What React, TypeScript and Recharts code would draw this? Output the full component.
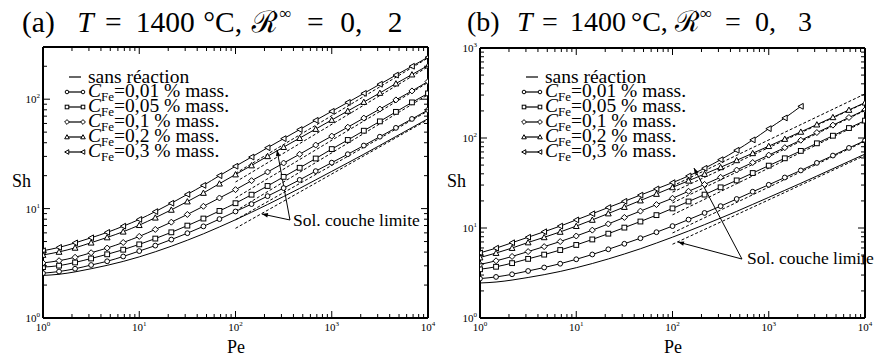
import React from 'react';
import { LineChart, Line, XAxis, YAxis, ReferenceLine } from 'recharts';

// Pe values where the markers sit (1/6 decade steps)
const PE = [1, 1.468, 2.154, 3.162, 4.642, 6.813, 10, 14.68, 21.54, 31.62, 46.42, 68.13, 100,
  146.8, 215.4, 316.2, 464.2, 681.3, 1000, 1468, 2154, 3162, 4642, 6813, 10000];

const X_TICKS = [1, 2, 3, 4, 5, 6, 7, 8, 9, 10, 20, 30, 40, 50, 60, 70, 80, 90, 100, 200, 300, 400, 500,
  600, 700, 800, 900, 1000, 2000, 3000, 4000, 5000, 6000, 7000, 8000, 9000, 10000];
const Y_TICKS_A = [1, 2, 3, 4, 5, 6, 7, 8, 9, 10, 20, 30, 40, 50, 60, 70, 80, 90, 100, 200, 300];
const Y_TICKS_B = [1, 2, 3, 4, 5, 6, 7, 8, 9, 10, 20, 30, 40, 50, 60, 70, 80, 90, 100, 200, 300, 400,
  500, 600, 700, 800, 900, 1000];

const LABELS = ['sans réaction', '0,01', '0,05', '0,1', '0,2', '0,3'];
const SHAPES = ['none', 'circle', 'square', 'diamond', 'triangle', 'triLeft'];

// (a) R = 0,2
const A_S0 = [2.45, 2.51, 2.64, 2.82, 3.03, 3.29, 3.62, 4.03, 4.53, 5.14, 5.88, 6.8, 7.91, 9.26, 10.9, 12.9, 15.3, 18.3, 21.9, 26.2, 31.4, 37.8, 45.6, 55, 66.3];
const A_C001 = [2.57, 2.66, 2.82, 3.05, 3.3, 3.65, 4.09, 4.59, 5.21, 5.96, 6.88, 8.02, 9.41, 11, 13, 15.4, 18.3, 22, 26.3, 31.4, 37.7, 45.4, 54.7, 66, 79.6];
const A_C005 = [2.92, 3.01, 3.22, 3.5, 3.82, 4.21, 4.71, 5.32, 6.07, 6.99, 8.11, 9.52, 11.2, 13.4, 16.1, 19.5, 23.6, 28.7, 35, 42.4, 51.5, 62.7, 76.6, 93.5, 113];
const A_C01 = [3.19, 3.34, 3.59, 3.95, 4.36, 4.9, 5.57, 6.45, 7.52, 8.84, 10.5, 12.5, 14.9, 18, 21.6, 26.1, 31.4, 38.1, 46, 55.5, 67.2, 81.3, 98.5, 119, 145];
const A_C02 = [3.77, 4.02, 4.38, 4.88, 5.45, 6.15, 7.06, 8.26, 9.74, 11.6, 13.9, 16.9, 20.5, 24.8, 30.1, 36.5, 44.1, 53.4, 64.6, 78.1, 94.2, 114, 139, 168, 203];
const A_C03 = [4.12, 4.42, 4.86, 5.41, 6.06, 6.91, 7.96, 9.39, 11.2, 13.5, 16.3, 20, 24.4, 29.6, 36, 43.6, 52.8, 64.1, 77.5, 93.5, 113, 137, 166, 200, 242];

// (b) R = 0,3
const B_S0 = [2.45, 2.51, 2.64, 2.82, 3.03, 3.29, 3.62, 4.03, 4.53, 5.14, 5.88, 6.8, 7.91, 9.26, 10.9, 12.9, 15.3, 18.3, 21.9, 26.2, 31.4, 37.8, 45.6, 55, 66.3];
const B_C001 = [2.74, 2.86, 3.06, 3.33, 3.64, 4.01, 4.49, 5.08, 5.8, 6.68, 7.7, 8.98, 10.5, 12.4, 14.7, 17.5, 21, 25.3, 30.2, 36.4, 43.6, 52.9, 63.8, 77.6, 93.5];
const B_C005 = [3.48, 3.71, 4.07, 4.54, 5.06, 5.69, 6.48, 7.46, 8.65, 10.1, 11.8, 13.9, 16.5, 19.7, 23.5, 28.3, 33.8, 40.8, 49.3, 59.5, 71.9, 87.3, 106, 129, 156];
const B_C01 = [3.94, 4.32, 4.83, 5.47, 6.21, 7.07, 8.15, 9.47, 11.1, 13.1, 15.4, 18.2, 21.4, 25.6, 30.5, 36.6, 44.1, 53.4, 64.6, 78.1, 94.5, 115, 139, 169, 205];
const B_C02 = [4.7, 5.27, 5.99, 6.91, 7.88, 9.05, 10.5, 12.3, 14.5, 17.1, 20.2, 23.9, 28.3, 33.5, 39.8, 47.3, 56.5, 67.7, 81.2, 97.5, 117, 141, 170, 205, 247];
const B_C03 = [5.29, 5.97, 6.86, 7.9, 9.09, 10.5, 12.3, 14.4, 16.9, 19.8, 23.2, 27.2, 31.9, 37.9, 46.1, 57.4, 73.1, 95.3, 127, 167, 225];

// boundary-layer solutions (dashed), Pe = 100 and 10^4
const BL_PE = [100, 10000];
const A_BL = [[6.6, 65], [7.9, 78], [9.5, 110], [12.5, 142], [17.5, 198], [21, 238]];
const B_BL = [[6.6, 64], [8.8, 92], [14, 153], [19, 202], [25, 245], [29.3, 309]];

// annotation arrows: [tip Pe, tip Sh, tail Pe, tail Sh]
const A_ARROWS = [[188, 8.93, 368, 7.87], [270, 34.3, 368, 7.87]];
const B_ARROWS = [[114, 6.99, 527, 4.52], [167, 46.4, 527, 4.52]];

const FONT = "'Liberation Serif', 'DejaVu Serif', 'Noto Serif', serif";

const isMajor = (v: number) => Math.abs(Math.log10(v) - Math.round(Math.log10(v))) < 1e-6;

const Pow = ({ x, y, v, anchor }: any) => (
  <text x={x} y={y} textAnchor={anchor} fontSize={11} style={{ fontFamily: FONT }} fill="#000">
    10<tspan dy={-5} fontSize={7}>{Math.round(Math.log10(v))}</tspan>
  </text>
);

const BottomTick = (p: any) => {
  const M = isMajor(p.payload.value);
  return (
    <g>
      <line x1={p.x} x2={p.x} y1={p.y} y2={p.y - (M ? 7 : 4)} stroke="#000" />
      {M && <Pow x={p.x} y={p.y + 13} v={p.payload.value} anchor="middle" />}
    </g>
  );
};
const TopTick = (p: any) => {
  const M = isMajor(p.payload.value);
  return <line x1={p.x} x2={p.x} y1={p.y} y2={p.y + (M ? 7 : 4)} stroke="#000" />;
};
const LeftTick = (p: any) => {
  const M = isMajor(p.payload.value);
  return (
    <g>
      <line x1={p.x} x2={p.x + (M ? 7 : 4)} y1={p.y} y2={p.y} stroke="#000" />
      {M && <Pow x={p.x - 3} y={p.y + 4} v={p.payload.value} anchor="end" />}
    </g>
  );
};
const RightTick = (p: any) => {
  const M = isMajor(p.payload.value);
  return <line x1={p.x} x2={p.x - (M ? 7 : 4)} y1={p.y} y2={p.y} stroke="#000" />;
};

function Marker({ shape, cx, cy, s = 2.4 }: any) {
  const st = { fill: '#fff', stroke: '#000', strokeWidth: 1 };
  if (shape === 'circle') return <circle cx={cx} cy={cy} r={s} {...st} />;
  if (shape === 'square') return <rect x={cx - s} y={cy - s} width={2 * s} height={2 * s} {...st} />;
  if (shape === 'diamond')
    return <polygon points={`${cx},${cy - s - 0.6} ${cx + s + 0.6},${cy} ${cx},${cy + s + 0.6} ${cx - s - 0.6},${cy}`} {...st} />;
  if (shape === 'triangle')
    return <polygon points={`${cx},${cy - s - 0.5} ${cx + s + 0.5},${cy + s} ${cx - s - 0.5},${cy + s}`} {...st} />;
  if (shape === 'triLeft')
    return <polygon points={`${cx - s - 0.5},${cy} ${cx + s},${cy - s - 0.5} ${cx + s},${cy + s + 0.5}`} {...st} />;
  return null;
}

const Arrow = (p: any) => {
  const { x1, y1, x2, y2 } = p;
  const a = Math.atan2(y2 - y1, x2 - x1);
  const L = 6, W = 2.2;
  const bx = x1 + L * Math.cos(a), by = y1 + L * Math.sin(a);
  const pts = `${x1},${y1} ${bx - W * Math.sin(a)},${by + W * Math.cos(a)} ${bx + W * Math.sin(a)},${by - W * Math.cos(a)}`;
  return (
    <g>
      <line x1={x1} y1={y1} x2={x2} y2={y2} stroke="#000" strokeWidth={1} />
      <polygon points={pts} fill="#000" />
    </g>
  );
};

const rows = (ys: number[], xs: number[] = PE) => ys.map((sh, i) => ({ pe: xs[i], sh }));

function Panel({ margin, ymax, yTicks, curves, bl, arrows }: any) {
  return (
    <LineChart width={444} height={360} margin={margin}>
      <XAxis xAxisId="b" dataKey="pe" type="number" scale="log" domain={[1, 10000]} allowDataOverflow
        ticks={X_TICKS} interval={0} height={20} tickSize={0} tickMargin={0} tickLine={false}
        axisLine={{ stroke: '#000', strokeWidth: 2 }} tick={BottomTick} />
      <XAxis xAxisId="t" orientation="top" dataKey="pe" type="number" scale="log" domain={[1, 10000]} allowDataOverflow
        ticks={X_TICKS} interval={0} height={1} tickSize={0} tickMargin={0} tickLine={false}
        axisLine={{ stroke: '#000', strokeWidth: 2 }} tick={TopTick} />
      <YAxis yAxisId="l" type="number" scale="log" domain={[1, ymax]} allowDataOverflow
        ticks={yTicks} interval={0} width={20} tickSize={0} tickMargin={0} tickLine={false}
        axisLine={{ stroke: '#000', strokeWidth: 2 }} tick={LeftTick} />
      <YAxis yAxisId="r" orientation="right" type="number" scale="log" domain={[1, ymax]} allowDataOverflow
        ticks={yTicks} interval={0} width={1} tickSize={0} tickMargin={0} tickLine={false}
        axisLine={{ stroke: '#000', strokeWidth: 2 }} tick={RightTick} />
      {bl.map((b: number[], i: number) => (
        <Line key={`bl${i}`} xAxisId="b" yAxisId="l" data={rows(b, BL_PE)} dataKey="sh" type="linear"
          stroke="#000" strokeWidth={1} strokeDasharray="3 2" dot={false} isAnimationActive={false} />
      ))}
      {curves.map((c: number[], i: number) => (
        <Line key={`c${i}`} xAxisId="b" yAxisId="l" data={rows(c)} dataKey="sh" type="monotone"
          stroke="#000" strokeWidth={1} isAnimationActive={false}
          dot={i === 0 ? false : (p: any) => <Marker key={`m${i}-${p.index}`} shape={SHAPES[i]} cx={p.cx} cy={p.cy} />} />
      ))}
      {arrows.map((a: number[], i: number) => (
        <ReferenceLine key={`ar${i}`} xAxisId="b" yAxisId="l" ifOverflow="visible"
          segment={[{ x: a[0], y: a[1] }, { x: a[2], y: a[3] }]} shape={Arrow} />
      ))}
    </LineChart>
  );
}

function Legend({ left, top }: any) {
  return (
    <div style={{ position: 'absolute', left, top, fontFamily: FONT, fontSize: 19.5, lineHeight: '15px' }}>
      {LABELS.map((l, i) => (
        <div key={l} style={{ height: 15, whiteSpace: 'nowrap', display: 'flex', alignItems: 'center' }}>
          <svg width={24} height={15} style={{ flex: 'none' }}>
            {i === 0 ? <line x1={5} x2={17} y1={8} y2={8} stroke="#000" strokeWidth={1.2} /> : (
              <g>
                <line x1={3} x2={19} y1={8} y2={8} stroke="#000" strokeWidth={1.2} />
                <Marker shape={SHAPES[i]} cx={3} cy={8} s={1.8} />
                <Marker shape={SHAPES[i]} cx={19} cy={8} s={1.8} />
              </g>
            )}
          </svg>
          {i === 0 ? <span>{l}</span> : (
            <span><i>C</i><span style={{ fontSize: 13, position: 'relative', top: 4 }}>Fe</span>={l} % mass.</span>
          )}
        </div>
      ))}
    </div>
  );
}

// title pieces: [x offset from panel, text, italic?, superscript?]
const TITLE_PARTS: [number, string, boolean, boolean][] = [
  [0, '', false, false], [50, 'T', true, false], [75, '=', false, false], [103, '1400', false, false],
  [164, '°C,', false, false], [208, 'ℛ', true, false], [233, '∞', false, true], [258, '=', false, false],
  [288, '0,', false, false], [331, '', false, false],
];

function Title({ left, tag, r, k, size }: any) {
  return (
    <div style={{ position: 'absolute', left, top: 7.5, fontFamily: FONT, fontSize: size, lineHeight: 1, whiteSpace: 'nowrap' }}>
      {TITLE_PARTS.map(([x, t, it, sup], i) => (
        <span key={i} style={{ position: 'absolute', left: x * k, top: sup ? -3 : 0, fontStyle: it ? 'italic' : 'normal', fontSize: sup ? 17 : size }}>
          {i === 0 ? `(${tag})` : i === TITLE_PARTS.length - 1 ? r : t}
        </span>
      ))}
    </div>
  );
}

const txt = (left: number, top: number, size: number, s: string) => (
  <div style={{ position: 'absolute', left, top, fontFamily: FONT, fontSize: size, whiteSpace: 'nowrap', lineHeight: 1 }}>{s}</div>
);

export default function App() {
  return (
    <div style={{ position: 'absolute', left: 0, top: 0, width: 889, height: 360, background: '#fff', overflow: 'hidden' }}>
      <div style={{ position: 'absolute', left: 0, top: 0 }}>
        <Panel margin={{ top: 46, right: 15, bottom: 22, left: 23 }} ymax={300} yTicks={Y_TICKS_A}
          curves={[A_S0, A_C001, A_C005, A_C01, A_C02, A_C03]} bl={A_BL} arrows={A_ARROWS} />
      </div>
      <div style={{ position: 'absolute', left: 445, top: 0 }}>
        <Panel margin={{ top: 47, right: 23, bottom: 22, left: 15 }} ymax={1000} yTicks={Y_TICKS_B}
          curves={[B_S0, B_C001, B_C005, B_C01, B_C02, B_C03]} bl={B_BL} arrows={B_ARROWS} />
      </div>
      <Title left={22} tag="a" r="2" k={1.105} size={29.5} />
      <Title left={467} tag="b" r="3" k={1} size={28} />
      <Legend left={64} top={69} />
      <Legend left={521} top={69} />
      {txt(293, 212, 17.5, 'Sol. couche limite')}
      {txt(747, 250, 17.5, 'Sol. couche limite')}
      {txt(227, 338, 18, 'Pe')}
      {txt(12, 172, 18, 'Sh')}
      {txt(447, 172, 18, 'Sh')}
      {txt(664, 338, 18, 'Pe')}
    </div>
  );
}
